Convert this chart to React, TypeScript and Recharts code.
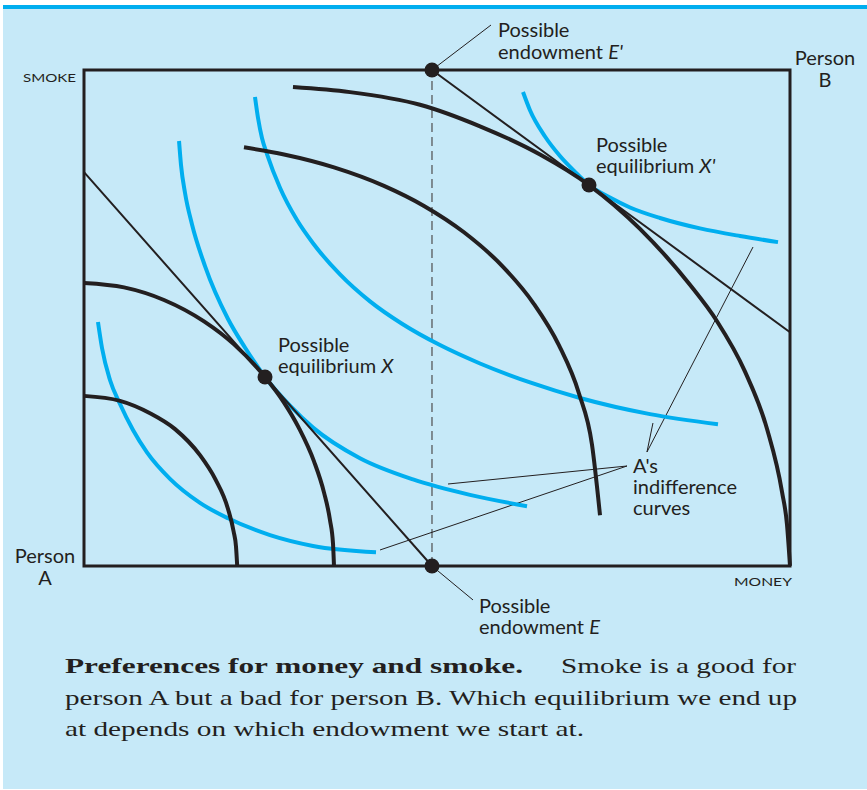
import React from 'react';
import {
  ComposedChart,
  Line,
  Scatter,
  XAxis,
  YAxis,
  ReferenceLine,
  ReferenceArea,
  Customized,
} from 'recharts';

// Money (horizontal) and smoke (vertical), both on a 0-100 scale of the box.
const endowmentMoney = 49.29;

const endowments = [
  { money: 49.29, smoke: 0 },
  { money: 49.29, smoke: 100 },
];
const equilibria = [
  { money: 25.64, smoke: 38.1 },
  { money: 71.53, smoke: 76.81 },
];

const budgetLineE = [
  { money: 0, smoke: 79.4 },
  { money: 25.64, smoke: 38.1 },
  { money: 49.29, smoke: 0 },
];
const budgetLineE2 = [
  { money: 49.29, smoke: 100 },
  { money: 71.53, smoke: 76.81 },
  { money: 100, smoke: 47.12 },
];

// B's indifference curves (black)
const bCurve1 = [
  { money: 0, smoke: 34.3 },
  { money: 5.1, smoke: 33.3 },
  { money: 9.35, smoke: 30.8 },
  { money: 12.9, smoke: 27.6 },
  { money: 16.4, smoke: 22.4 },
  { money: 18.6, smoke: 17.5 },
  { money: 20.4, smoke: 11.5 },
  { money: 21.2, smoke: 6.9 },
  { money: 21.53, smoke: 3.91 },
  { money: 21.7, smoke: 0 },
];
const bCurve2 = [
  { money: 0, smoke: 57.06 },
  { money: 5.67, smoke: 56.17 },
  { money: 11.33, smoke: 53.63 },
  { money: 17.0, smoke: 49.31 },
  { money: 21.25, smoke: 44.68 },
  { money: 25.64, smoke: 38.1 },
  { money: 28.33, smoke: 32.94 },
  { money: 30.45, smoke: 27.8 },
  { money: 32.58, smoke: 21.09 },
  { money: 33.99, smoke: 14.84 },
  { money: 34.84, smoke: 9.27 },
  { money: 35.27, smoke: 4.52 },
  { money: 35.41, smoke: 0 },
];
const bCurve3 = [
  { money: 22.66, smoke: 84.41 },
  { money: 28.33, smoke: 82.98 },
  { money: 35.41, smoke: 80.38 },
  { money: 42.49, smoke: 76.65 },
  { money: 48.16, smoke: 72.6 },
  { money: 53.82, smoke: 67.28 },
  { money: 59.49, smoke: 60.12 },
  { money: 63.74, smoke: 52.82 },
  { money: 67.28, smoke: 44.48 },
  { money: 70.11, smoke: 34.78 },
  { money: 71.95, smoke: 24.5 },
  { money: 73.09, smoke: 10.22 },
];
const bCurve4 = [
  { money: 29.6, smoke: 96.57 },
  { money: 37.68, smoke: 95.54 },
  { money: 47.59, smoke: 93.0 },
  { money: 56.09, smoke: 88.65 },
  { money: 64.59, smoke: 82.96 },
  { money: 71.53, smoke: 76.81 },
  { money: 78.75, smoke: 67.98 },
  { money: 85.83, smoke: 56.69 },
  { money: 89.66, smoke: 49.35 },
  { money: 93.63, smoke: 39.19 },
  { money: 96.74, smoke: 27.66 },
  { money: 98.87, smoke: 14.96 },
  { money: 99.57, smoke: 8.41 },
  { money: 100, smoke: 0 },
];

// A's indifference curves (blue)
const aCurve1 = [
  { money: 1.98, smoke: 49.19 },
  { money: 2.55, smoke: 43.95 },
  { money: 3.68, smoke: 37.5 },
  { money: 5.1, smoke: 32.66 },
  { money: 6.94, smoke: 27.42 },
  { money: 8.92, smoke: 22.9 },
  { money: 12.18, smoke: 17.56 },
  { money: 16.43, smoke: 12.72 },
  { money: 20.4, smoke: 9.62 },
  { money: 26.35, smoke: 6.23 },
  { money: 32.44, smoke: 4.05 },
  { money: 41.36, smoke: 2.78 },
];
const aCurve2 = [
  { money: 13.46, smoke: 85.69 },
  { money: 13.74, smoke: 80.85 },
  { money: 14.31, smoke: 75.2 },
  { money: 15.3, smoke: 68.85 },
  { money: 17.14, smoke: 60.46 },
  { money: 20.4, smoke: 49.8 },
  { money: 22.8, smoke: 44.05 },
  { money: 25.64, smoke: 38.1 },
  { money: 29.18, smoke: 32.31 },
  { money: 32.44, smoke: 27.9 },
  { money: 39.09, smoke: 21.73 },
  { money: 46.6, smoke: 17.46 },
  { money: 54.67, smoke: 14.35 },
  { money: 62.75, smoke: 12.06 },
];
const aCurve3 = [
  { money: 24.22, smoke: 94.56 },
  { money: 24.65, smoke: 90.32 },
  { money: 25.21, smoke: 86.29 },
  { money: 25.92, smoke: 83.06 },
  { money: 27.76, smoke: 76.25 },
  { money: 30.17, smoke: 69.74 },
  { money: 32.44, smoke: 65.06 },
  { money: 36.26, smoke: 58.79 },
  { money: 40.51, smoke: 53.35 },
  { money: 45.04, smoke: 48.84 },
  { money: 50.42, smoke: 44.54 },
  { money: 56.09, smoke: 40.83 },
  { money: 63.17, smoke: 37.0 },
  { money: 70.25, smoke: 33.87 },
  { money: 80.17, smoke: 30.62 },
  { money: 89.8, smoke: 28.57 },
];
const aCurve4 = [
  { money: 62.18, smoke: 95.56 },
  { money: 63.17, smoke: 91.89 },
  { money: 65.3, smoke: 86.59 },
  { money: 67.42, smoke: 82.66 },
  { money: 69.55, smoke: 79.47 },
  { money: 71.53, smoke: 76.81 },
  { money: 74.5, smoke: 74.29 },
  { money: 77.34, smoke: 72.28 },
  { money: 81.58, smoke: 70.16 },
  { money: 87.25, smoke: 68.06 },
  { money: 92.92, smoke: 66.53 },
  { money: 98.3, smoke: 65.3 },
];

// Leader lines for the annotations
const leaders = [
  [{ x: 49.29, y: 100 }, { x: 57.65, y: 109.07 }],
  [{ x: 49.29, y: 0 }, { x: 55.1, y: -6.85 }],
  [{ x: 76.91, y: 20.16 }, { x: 51.56, y: 16.53 }],
  [{ x: 76.91, y: 20.16 }, { x: 41.93, y: 3.23 }],
  [{ x: 79.74, y: 22.98 }, { x: 94.76, y: 64.31 }],
  [{ x: 79.74, y: 22.98 }, { x: 80.59, y: 28.83 }],
];

const INK = '#231f20';
const CYAN = '#00aeef';
const BG = '#c6e9f8';
const SANS = 'Lato, "Noto Sans", sans-serif';
const SERIF = '"Liberation Serif", serif';

const L = ({ x, y, children, anchor = 'start' }: any) => (
  <text x={x} y={y} fontFamily={SANS} fontSize={20} fill={INK} textAnchor={anchor}>
    {children}
  </text>
);

const Annotations = () => (
  <g>
    <L x={498} y={37}>Possible</L>
    <L x={498} y={59}>
      endowment <tspan fontStyle="italic">E'</tspan>
    </L>
    <text x={23} y={82} fontFamily={SANS} fontSize={12} fill={INK} textLength={53} lengthAdjust="spacingAndGlyphs">
      SMOKE
    </text>
    <L x={825} y={65} anchor="middle">Person</L>
    <L x={825} y={87} anchor="middle">B</L>
    <L x={596} y={152}>Possible</L>
    <L x={596} y={173}>
      equilibrium <tspan fontStyle="italic">X'</tspan>
    </L>
    <L x={278} y={352}>Possible</L>
    <L x={278} y={373}>
      equilibrium <tspan fontStyle="italic">X</tspan>
    </L>
    <L x={633} y={473}>A's</L>
    <L x={633} y={494}>indifference</L>
    <L x={633} y={515}>curves</L>
    <L x={45} y={563} anchor="middle">Person</L>
    <L x={45} y={585} anchor="middle">A</L>
    <text x={734} y={586} fontFamily={SANS} fontSize={12} fill={INK} textLength={58} lengthAdjust="spacingAndGlyphs">
      MONEY
    </text>
    <L x={479} y={613}>Possible</L>
    <L x={479} y={634}>
      endowment <tspan fontStyle="italic">E</tspan>
    </L>

    <text x={65} y={673} fontFamily={SERIF} fontSize={22} fontWeight="bold" fill={INK} textLength={458} lengthAdjust="spacingAndGlyphs">
      Preferences for money and smoke.
    </text>
    <text x={561} y={673} fontFamily={SERIF} fontSize={22} fill={INK} textLength={235} lengthAdjust="spacingAndGlyphs">
      Smoke is a good for
    </text>
    <text x={65} y={705} fontFamily={SERIF} fontSize={22} fill={INK} textLength={732} lengthAdjust="spacingAndGlyphs">
      person A but a bad for person B. Which equilibrium we end up
    </text>
    <text x={65} y={736} fontFamily={SERIF} fontSize={22} fill={INK} textLength={519} lengthAdjust="spacingAndGlyphs">
      at depends on which endowment we start at.
    </text>
  </g>
);

const Dot = (props: any) => <circle cx={props.cx} cy={props.cy} r={7.5} fill={INK} />;

const curveProps = {
  dataKey: 'smoke',
  type: 'monotone' as const,
  dot: false,
  activeDot: false,
  isAnimationActive: false,
  strokeWidth: 4,
};

export default function App() {
  return (
    <div style={{ position: 'absolute', left: 0, top: 0, width: 867, height: 790, background: '#ffffff' }}>
      <div
        style={{
          position: 'absolute',
          left: 3,
          top: 5,
          width: 864,
          height: 784,
          background: BG,
          borderTop: `4px solid ${CYAN}`,
          boxSizing: 'border-box',
        }}
      />
      <div style={{ position: 'absolute', left: 0, top: 0 }}>
        <ComposedChart width={867} height={790} margin={{ top: 70, left: 84, right: 77, bottom: 224 }}>
          <XAxis dataKey="money" type="number" domain={[0, 100]} hide />
          <YAxis dataKey="smoke" type="number" domain={[0, 100]} hide />
          <ReferenceLine x={endowmentMoney} stroke="#58595b" strokeWidth={1.3} strokeDasharray="9 5" ifOverflow="visible" />
          {leaders.map((seg, i) => (
            <ReferenceLine key={i} segment={seg} stroke={INK} strokeWidth={1} ifOverflow="visible" />
          ))}
          <Line data={aCurve1} stroke={CYAN} {...curveProps} />
          <Line data={aCurve2} stroke={CYAN} {...curveProps} />
          <Line data={aCurve3} stroke={CYAN} {...curveProps} />
          <Line data={aCurve4} stroke={CYAN} {...curveProps} />
          <Line data={bCurve1} stroke={INK} {...curveProps} />
          <Line data={bCurve2} stroke={INK} {...curveProps} />
          <Line data={bCurve3} stroke={INK} {...curveProps} />
          <Line data={bCurve4} stroke={INK} {...curveProps} />
          <Line data={budgetLineE} stroke={INK} {...curveProps} type="linear" strokeWidth={2} />
          <Line data={budgetLineE2} stroke={INK} {...curveProps} type="linear" strokeWidth={2} />
          <ReferenceArea x1={0} x2={100} y1={0} y2={100} fill="none" stroke={INK} strokeWidth={3} ifOverflow="visible" />
          <Scatter data={endowments} shape={Dot} isAnimationActive={false} />
          <Scatter data={equilibria} shape={Dot} isAnimationActive={false} />
          <Customized component={Annotations} />
        </ComposedChart>
      </div>
    </div>
  );
}
